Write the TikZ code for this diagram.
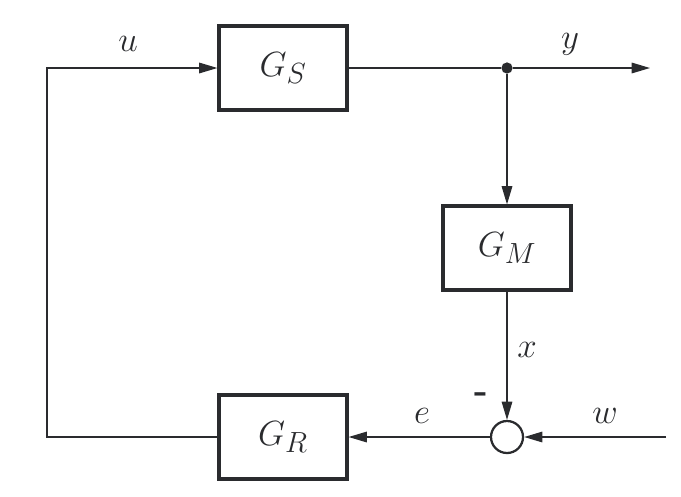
\documentclass[tikz,border=0pt]{standalone}
\usetikzlibrary{arrows.meta}
\definecolor{ink}{HTML}{2A2B2E}
\begin{document}
\begin{tikzpicture}[x=0.025cm,y=-0.025cm,->,>={Triangle[length=13pt,width=7.5pt]},
	line width=1pt,color=ink,font=\fontsize{29}{34}\selectfont,
	block/.style={draw,line width=2.2pt,minimum width=3.2cm,minimum height=2.1cm},
	sum node/.style={circle,draw,line width=1.6pt,minimum size=0.8cm,inner sep=0pt},
	branch/.style={circle,fill,inner sep=0pt,minimum size=8pt}]
	
	\useasboundingbox (0,0) rectangle (681,496);
	
	\node[block] (GS) at (283,68) {$G_S$};
	\node[block] (GM) at (507,248) {$G_M$};
	\node[block] (GR) at (283,437) {$G_R$};
	\node[sum node] (sum) at (507,437) {};
	\node[branch] (dot) at (507,68) {};
	\coordinate (out) at (650,68);
	\coordinate (in) at (666,437);
	\coordinate (corner) at (47,68);
	
	\path
	(GS.east) edge[-] (dot)
	(dot) edge (out)
	(dot) edge (GM.north)
	(GM.south) edge (sum.north)
	(in) edge (sum.east)
	(sum.west) edge (GR.east);
	\draw (GR.west) -| (corner) -- (GS.west);
	
	% signal labels
	\node (lu) at (128,44) {$u$};
	\node (ly) at (570,44) {$y$};
	\node (lx) at (527,350) {$x$};
	\node (le) at (422,416) {$e$};
	\node (lw) at (605,416) {$w$};
	\node[font=\fontsize{26}{30}\selectfont\bfseries] (minus) at (481,398) {-};
\end{tikzpicture}
\end{document}
